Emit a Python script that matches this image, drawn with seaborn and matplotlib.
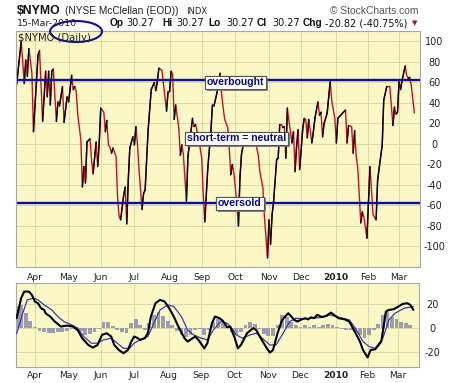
import numpy as np
import pandas as pd
import matplotlib
matplotlib.use("Agg")
import matplotlib.pyplot as plt
import matplotlib.patheffects as pe
from matplotlib.collections import LineCollection
from matplotlib.patches import Ellipse
import seaborn as sns

sns.set_theme(style="white")
plt.rcParams["font.family"] = ["DejaVu Sans"]

# ---------------- data ----------------
first_day, last_day = "2009-03-16", "2010-03-15"

# NYMO (McClellan Oscillator) vertices: trading-session number, value
nymo_day = [0, 3, 5, 6, 7, 8, 10, 11, 14, 15, 17, 19, 20, 21, 22, 23, 24, 26, 27, 28,
            30, 31, 33, 34, 36, 37, 38, 39, 40, 42, 43, 44, 45, 46, 48, 49, 50, 52, 53, 54,
            55, 57, 58, 59, 60, 61, 62, 63, 65, 66, 67, 68, 70, 71, 72, 73, 74, 76, 77, 78,
            79, 80, 82, 83, 84, 86, 88, 90, 91, 92, 93, 95, 98, 99, 100, 101, 102, 103, 104, 106,
            107, 108, 109, 111, 112, 115, 116, 117, 119, 121, 122, 123, 125, 127, 128, 129, 131, 133, 134, 136,
            137, 138, 139, 140, 141, 142, 143, 144, 145, 146, 147, 148, 150, 151, 152, 154, 155, 156, 157, 158,
            159, 161, 162, 164, 165, 166, 167, 168, 170, 171, 172, 173, 174, 175, 176, 177, 178, 180, 181, 182,
            183, 184, 185, 187, 188, 189, 190, 191, 193, 194, 195, 197, 198, 199, 200, 201, 203, 205, 206, 208,
            209, 210, 213, 215, 216, 217, 219, 220, 221, 222, 223, 225, 226, 227, 229, 231, 233, 235, 236, 239,
            240, 242, 244, 246, 247, 248, 249, 250, 251, 252, 254, 255, 256, 257, 258, 260]
nymo_val = [58, 100, 59, 82, 66, 93, 69, 12, 87, 91, 22, 71, 46, 71, 38, 71, 73, 22, 41, 37,
            56, 21, 46, 41, 67, 53, 56, 51, 28, 4, -42, -22, -38, 2, 5, -16, -29, 2, -22, 1,
            35, 31, 12, 23, -1, -3, -9, -4, -12, -52, -71, -74, -50, -42, -78, -35, -4, 7, -1, 17,
            0, -25, -64, -48, -45, 14, 53, 60, 52, 61, 74, 72, 32, 51, 51, 71, 68, 24, 38, 16,
            -11, -1, -10, -56, -12, 25, 17, 19, 6, -14, -49, -76, -23, 12, 38, 37, 50, 69, 48, 24,
            20, 16, -4, -30, -20, -28, -43, -59, -80, -33, -10, -2, 3, -2, 1, 11, -1, 5, -4, -11,
            -27, -43, -71, -111, -74, -98, -69, -56, -15, -14, 19, 19, 16, 17, -14, 35, 23, 1, 12, -27,
            -3, 14, -25, 14, 25, 24, 6, 24, 1, 12, 25, 41, 28, 31, 7, 20, 30, 61, 42, 25,
            1, 25, 30, 33, 1, 18, 17, -9, 13, -12, -23, -77, -66, -71, -92, -22, -69, -74, -35, -1,
            43, 56, 56, 18, 36, 29, 31, 61, 53, 62, 76, 67, 64, 65, 57, 30.27]

overbought_level = 62
oversold_level = -58

# lower panel: MACD line, signal line, histogram
macd_day = [0, 3, 5, 8, 10, 12, 14, 16, 18, 19, 22, 25, 29, 33, 37, 40, 43, 47, 50, 53,
            56, 59, 62, 64, 67, 70, 73, 75, 77, 79, 81, 84, 86, 88, 91, 94, 97, 100, 103, 106,
            110, 112, 114, 117, 119, 123, 125, 128, 130, 133, 135, 138, 140, 143, 145, 147, 151, 155, 157, 160,
            164, 166, 168, 171, 174, 178, 180, 182, 184, 186, 189, 191, 193, 195, 197, 200, 203, 206, 208, 211,
            215, 218, 221, 225, 227, 229, 230, 232, 235, 239, 242, 244, 247, 250, 253, 256, 258, 260]
macd_val = [8, 25, 30.4, 30.4, 27.6, 22, 20.6, 16.4, 15, 12.2, 9.4, 5.2, 1, 1.8, 1, -2, -8.8, -14.5, -16.7, -14.5,
            -6, -4.6, -7.4, -14.5, -18.7, -21.4, -18.7, -12, -7.4, -8.5, -10.2, -8.8, -4.6, 9.4, 20.6, 23.4, 22, 16.4, 9.4, 1,
            -8.8, -11.6, -10, -7.4, -10, -17.3, -13, 3.8, 9.4, 8, 6, 0.4, 1, -8.8, -17.3, -14.5, -4.6, -0.4, -1.8, -8.8,
            -17.3, -20.9, -18.7, -4.6, 6.6, 12.2, 9.4, 6.6, 5.2, 6.6, 8, 7, 8.8, 8, 10.8, 9, 10, 12.7, 10.8, 8,
            7.1, 5.2, -1.8, -11.6, -18.7, -22.9, -25, -18.7, -18.1, -11.6, 13.6, 15, 15.5, 17.7, 20, 20.6, 19.2, 15]

signal_day = [0, 4, 7, 11, 14, 18, 23, 27, 31, 36, 40, 44, 49, 53, 57, 62, 66, 70, 74, 77,
              81, 86, 90, 94, 99, 103, 108, 112, 116, 121, 125, 129, 134, 138, 140, 144, 148, 153, 157, 161,
              166, 170, 174, 179, 183, 188, 194, 201, 205, 211, 218, 222, 227, 231, 235, 240, 244, 248, 254, 260]
signal_val = [-5, 12.2, 23.4, 24.8, 23.4, 19.2, 15, 9.4, 5.2, 2.4, -0.4, -7.4, -13, -13, -10.2, -8.8, -13, -17.3, -17.3, -13,
              -10.2, -7.4, 3.8, 15, 19.2, 17.8, 9.4, -1.8, -6, -8.8, -10.2, -1.8, 5.2, 3.8, 1, -6, -8.8, -6, -4.6, -8.8,
              -14.5, -14.5, -6, 5.2, 8, 7.5, 8, 8.8, 10.8, 8.8, 6.6, -0.4, -11.6, -15.9, -17.3, -8.8, 6.6, 12.2, 16.4, 17.8]

hist_day = list(range(0, 259, 3))
hist_val = [18, 19, 12, 6, 1, -3, -4, -4.5, -4.5, -4,
            -4, -3, -1, 0.5, -3, -6, -5.5, -4, -1, 5,
            4.5, 1.5, -2, -3.5, -4.5, 4, 7, 2, -2, 4,
            11, 13.5, 10, 6, 2, -3, -6, -8, -6, -2,
            -1, -6, -2, 5, 7, 4, 1, -4, -6, -4,
            2, 5, 3, -1, -5, -7, -7, 2, 10.5, 9,
            5, 2, 1, 2, 1, 2, 1, 2, 3, 2,
            1, -1, -2, -2, -4, -6, -8.5, -6, -2, 3,
            11, 13, 9, 7, 5, 4, 2]

# ---------------- styling ----------------
W, H = 461, 383
BG = "#FAF8C6"
GRID = "#DCD9A6"
RED = "#C0141E"
NAVY = "#0B0BA5"


def fx(px):
    return px / W


def fy(py):
    return 1 - py / H


fig = plt.figure(figsize=(W / 100, H / 100), dpi=100)
fig.patch.set_facecolor("white")

ax = fig.add_axes([fx(16), fy(267), (420 - 16) / W, (267 - 31) / H])
ax2 = fig.add_axes([fx(16), fy(367), (419 - 16) / W, (367 - 283) / H])

sessions = pd.bdate_range(first_day, last_day)
tick_pos, tick_lab = [], []
for i in range(1, len(sessions)):
    if sessions[i].month != sessions[i - 1].month:
        tick_pos.append(i)
        tick_lab.append(str(sessions[i].year) if sessions[i].month == 1 else sessions[i].strftime("%b"))

for a in (ax, ax2):
    a.set_facecolor(BG)
    a.set_xlim(-0.4, 263.7)
    a.set_xticks(tick_pos)
    a.set_xticklabels(tick_lab)
    a.grid(True, color=GRID, lw=0.7)
    a.set_axisbelow(True)
    a.yaxis.tick_right()
    a.tick_params(axis="both", length=0, labelsize=6.6, labelcolor="#222222")
    for lbl in a.get_xticklabels():
        if lbl.get_text().isdigit():
            lbl.set_fontweight("bold")
    for sp in a.spines.values():
        sp.set_color("#A8A8A8")
        sp.set_linewidth(0.8)
    a.set_xlabel("")
    a.set_ylabel("")

# ---- main panel ----
x = np.array(nymo_day, float)
y = np.array(nymo_val, float)
sns.lineplot(x=x, y=y, ax=ax, color=RED, lw=1.0, estimator=None, sort=False)
pts = np.column_stack([x, y]).reshape(-1, 1, 2)
segs = np.concatenate([pts[:-1], pts[1:]], axis=1)
up = np.diff(y) > 0
ax.add_collection(LineCollection(segs[up], colors="black", linewidths=1.0, capstyle="round"))

ax.axhline(overbought_level, color=NAVY, lw=1.7)
ax.axhline(oversold_level, color=NAVY, lw=1.7)
ax.set_ylim(-120, 110.2)
ax.set_yticks(range(-100, 101, 20))
ax.set_yticklabels([str(v) for v in range(-100, 101, 20)])
for lbl in ax.get_yticklabels():
    lbl.set_horizontalalignment("center")
ax.tick_params(axis="y", pad=10.5, labelsize=7)
ax.tick_params(axis="x", pad=4)
ax.set_xlabel("")
ax.set_ylabel("")

box_kw = dict(boxstyle="square,pad=0.18", fc="white", ec="#555555", lw=0.8)
for txt, sx, sy in [("overbought", 143, overbought_level - 2),
                    ("short-term = neutral", 143.6, 5.4),
                    ("oversold", 146, oversold_level)]:
    t = ax.text(sx, sy, txt, ha="center", va="center", fontsize=7.6, fontweight="bold",
                color="#0A0A80", family=["Liberation Sans"], bbox=box_kw, zorder=5)
    t.get_bbox_patch().set_path_effects([
        pe.withSimplePatchShadow(offset=(1.4, -1.4), shadow_rgbFace="#777777", alpha=0.9),
        pe.Normal()])

# ---- lower panel ----
ax2.bar(hist_day, hist_val, width=2.5, color="#9C9CB0", linewidth=0, zorder=2)
sns.lineplot(x=signal_day, y=signal_val, ax=ax2, color="#3A3AB4", lw=0.9, estimator=None, zorder=3)
sns.lineplot(x=macd_day, y=macd_val, ax=ax2, color="black", lw=1.5, estimator=None, zorder=4)
ax2.set_ylim(-33, 37.6)
ax2.set_yticks([-20, 0, 20])
ax2.set_yticklabels(["-20", "0", "20"])
for lbl in ax2.get_yticklabels():
    lbl.set_horizontalalignment("center")
ax2.tick_params(axis="y", pad=9.5, labelsize=7)
ax2.tick_params(axis="x", pad=3)
ax2.set_xlabel("")
ax2.set_ylabel("")

# ---- header texts ----
LS = ["Liberation Sans", "DejaVu Sans"]
DV = ["DejaVu Sans"]
fig.text(fx(17), fy(11), "$NYMO", fontsize=8.8, fontweight="bold", family=LS, va="center", color="#111111")
fig.text(fx(65), fy(11), "(NYSE McClellan (EOD))", fontsize=7.3, family=LS, va="center", color="#222222")
fig.text(fx(186), fy(11), "INDX", fontsize=6.0, family=DV, va="center", color="#222222")
fig.text(fx(330), fy(11), "\u00a9 StockCharts.com", fontsize=7.4, family=LS, va="center", color="#555555")

fig.text(fx(17), fy(23), "15-Mar-2010", fontsize=6.8, family=DV, va="center", color="#222222")
pieces = [(110, "Op", True), (126, "30.27", False), (162, "Hi", True), (176, "30.27", False),
          (208, "Lo", True), (226, "30.27", False), (257, "Cl", True), (272, "30.27", False),
          (303, "Chg", True), (325, "-20.82 (-40.75%)", False)]
for px, txt, bold in pieces:
    if bold:
        fig.text(fx(px), fy(23), txt, fontsize=7.3, fontweight="bold", family=LS,
                 va="center", color="#111111")
    else:
        fig.text(fx(px), fy(23), txt, fontsize=7.0, family=DV, va="center", color="#111111")
fig.text(fx(415), fy(23), "\u25bc", fontsize=5, color="#B00030", va="center", ha="center")

fig.text(fx(18), fy(38), "$NYMO (Daily)", fontsize=7.2, family=DV, va="center", color="#222222")
fig.patches.append(Ellipse((fx(76), fy(31.5)), 52 / W, 21 / H, transform=fig.transFigure,
                           fill=False, ec="#10109A", lw=1.5))

fig.savefig("out.png", dpi=100, facecolor="white")
